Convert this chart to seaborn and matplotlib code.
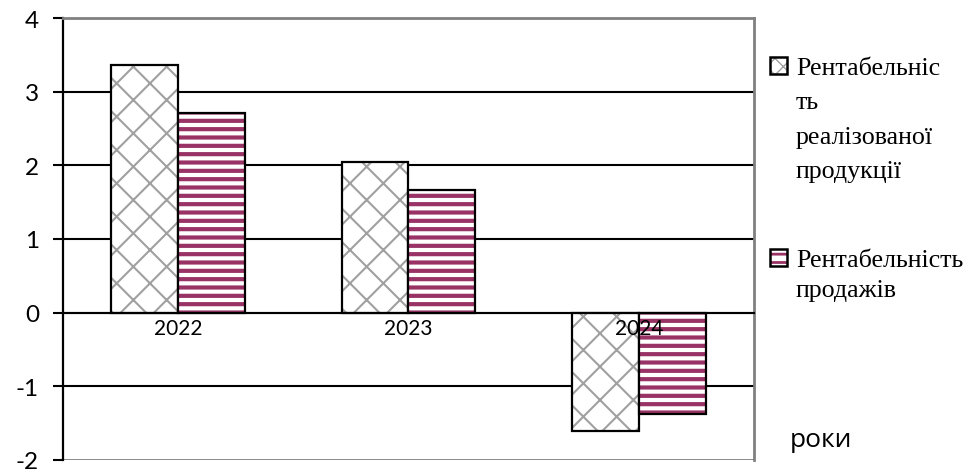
import matplotlib
matplotlib.use("Agg")
import matplotlib.pyplot as plt
import matplotlib.colors as mcolors
import seaborn as sns
import pandas as pd
from matplotlib.patches import Rectangle

years = ["2022", "2023", "2024"]
series_names = ["Рентабельніс\nть\nреалізованої\nпродукції", "Рентабельність\nпродажів"]
rent_real = [3.36, 2.04, -1.61]
rent_sales = [2.71, 1.66, -1.37]
y_ticks = [-2, -1, 0, 1, 2, 3, 4]
x_axis_title = "роки"

sns.set_theme(style="white")
plt.rcParams["font.family"] = ["Lato", "Open Sans", "DejaVu Sans"]
plt.rcParams["axes.unicode_minus"] = False
plt.rcParams["text.color"] = "black"
plt.rcParams["xtick.color"] = "black"
plt.rcParams["ytick.color"] = "black"
plt.rcParams["axes.labelcolor"] = "black"

df = pd.DataFrame({
    "year": years * 2,
    "value": rent_real + rent_sales,
    "series": [series_names[0]] * 3 + [series_names[1]] * 3,
})

fig = plt.figure(figsize=(9.77, 4.77), dpi=100)
ax = fig.add_axes([63 / 977, 1 - 461 / 477, (754 - 63) / 977, (461 - 19) / 477])

purple = "#993366"
gray_hatch = "#a0a0a0"


def style_patch(p, hatch, hcolor, hlw):
    p.set_facecolor("white")
    p.set_edgecolor("black")
    p.set_hatch(hatch)
    try:
        p.set_hatch_linewidth(hlw)
    except Exception:
        pass
    p._hatch_color = mcolors.to_rgba(hcolor)


sns.barplot(data=df, x="year", y="value", hue="series", hue_order=series_names,
            palette=["white", "white"], width=0.58, gap=0, ax=ax, legend=False,
            edgecolor="black", linewidth=1.6, saturation=1)

n = len(years)
bars = ax.patches
for i, b in enumerate(bars[:2 * n]):
    if i < n:
        style_patch(b, "x", gray_hatch, 1.5)
    else:
        style_patch(b, "--", purple, 3.0)

ax.set_ylim(-2, 4)
ax.set_yticks(y_ticks)
ax.set_xlim(-0.5, n - 0.5)

for y in y_ticks[1:-1]:
    ax.axhline(y, color="black", lw=1.5, zorder=0.5)
ax.axhline(-2, color="#808080", lw=2, zorder=0.5)

for s in ["top", "right"]:
    ax.spines[s].set_color("#808080")
    ax.spines[s].set_linewidth(2)
ax.spines["left"].set_color("black")
ax.spines["left"].set_linewidth(1.6)
ax.spines["bottom"].set_position(("data", 0))
ax.spines["bottom"].set_color("black")
ax.spines["bottom"].set_linewidth(1.5)

ax.tick_params(axis="y", direction="out", length=7.2, width=1.5, color="black",
               labelcolor="black", labelsize=17.5, pad=10, left=True)
ax.tick_params(axis="x", length=0, labelsize=15, pad=4, labelcolor="black")
ax.set_xlabel("")
ax.set_ylabel("")
ax.xaxis.set_zorder(5)

fig.text(790 / 977, 1 - 447 / 477, x_axis_title, fontsize=19, va="baseline", ha="left",
         family=["Open Sans", "DejaVu Sans"], color="black")

# legend (manual: handle aligned with the first line of each entry)
legend_specs = [
    (series_names[0], 58, 75, 34.3, "xx", gray_hatch, 1.0),
    (series_names[1], 250, 267, 30.5, "--", purple, 2.0),
]
for label, box_top, baseline, step, hatch, hcolor, hlw in legend_specs:
    r = Rectangle((770 / 977, 1 - (box_top + 17) / 477), 17 / 977, 17 / 477,
                  transform=fig.transFigure, linewidth=1.8)
    style_patch(r, hatch, hcolor, hlw)
    fig.add_artist(r)
    for k, line in enumerate(label.split("\n")):
        fig.text(796 / 977, 1 - (baseline + k * step) / 477, line, fontsize=18.7,
                 va="baseline", ha="left", family=["Liberation Serif"], color="black")

fig.savefig("out.png", dpi=100)
